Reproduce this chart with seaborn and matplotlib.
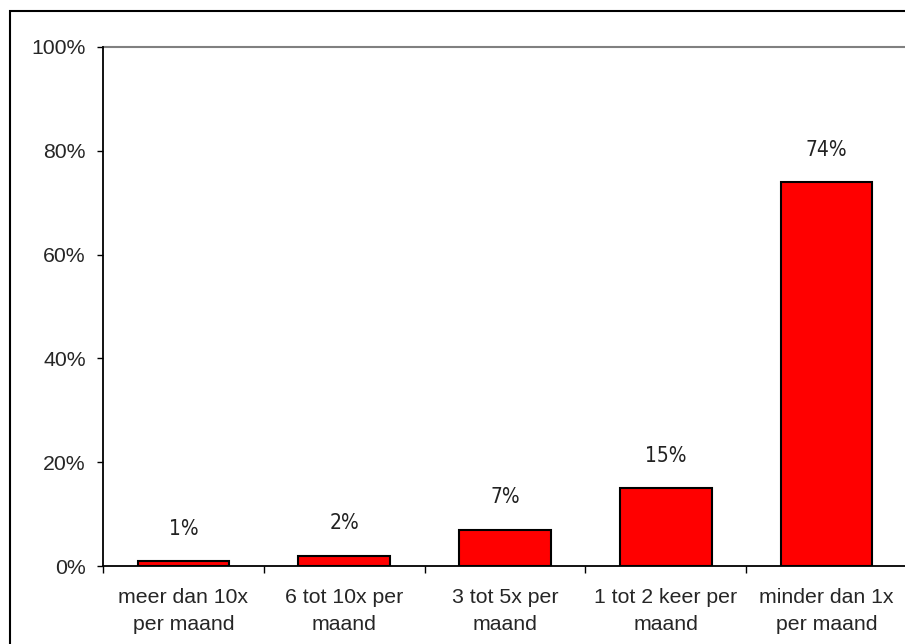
import matplotlib
matplotlib.use("Agg")
import matplotlib.pyplot as plt
from matplotlib.patches import Rectangle
import seaborn as sns
import pandas as pd

categories = [
    "meer dan 10x\nper maand",
    "6 tot 10x per\nmaand",
    "3 tot 5x per\nmaand",
    "1 tot 2 keer per\nmaand",
    "minder dan 1x\nper maand",
]
values = [1, 2, 7, 15, 74]
value_labels = ["1%", "2%", "7%", "15%", "74%"]
y_ticks = [0, 20, 40, 60, 80, 100]
y_tick_labels = ["0%", "20%", "40%", "60%", "80%", "100%"]

df = pd.DataFrame({"freq": categories, "pct": values})

sns.set_style("white")
plt.rcParams["font.family"] = ["Liberation Sans", "DejaVu Sans"]

W, H = 905, 644
fig = plt.figure(figsize=(W / 100, H / 100), dpi=100)
fig.patch.set_facecolor("white")

# outer chart frame
fig.patches.append(Rectangle((10 / W, -0.05), 1.2, 1.05 - 11 / H,
                             transform=fig.transFigure, fill=False,
                             edgecolor="black", linewidth=1.5, zorder=0))

left, right, top, bottom = 103, 907, 47, 566
ax = fig.add_axes([left / W, (H - bottom) / H, (right - left) / W, (bottom - top) / H])

sns.barplot(data=df, x="freq", y="pct", color="#FF0000", saturation=1,
            width=0.57, edgecolor="black", linewidth=1.5, ax=ax, zorder=3)

ax.set_xlim(-0.5, 4.5)
ax.set_ylim(0, 100)
ax.set_xlabel("")
ax.set_ylabel("")

ax.set_yticks(y_ticks)
ax.set_yticklabels(y_tick_labels, fontsize=15.3)
ax.tick_params(axis="y", direction="out", length=4.5, width=1, pad=8, color="black", left=True)

ax.set_xticks(range(len(categories)))
ax.set_xticklabels(categories, fontsize=15.3, linespacing=1.5)
ax.tick_params(axis="x", which="major", length=0, pad=16)
ax.set_xticks([i + 0.5 for i in range(-1, len(categories))], minor=True)
ax.tick_params(axis="x", which="minor", direction="out", length=5, width=1, color="black", bottom=True)

# top reference line at 100%
ax.axhline(100, color="#808080", linewidth=1.5, zorder=2, clip_on=False)

for s in ["top", "right"]:
    ax.spines[s].set_visible(False)
for s in ["left", "bottom"]:
    ax.spines[s].set_color("black")
    ax.spines[s].set_linewidth(1.3)
    ax.spines[s].set_zorder(4)

for i, (v, lab) in enumerate(zip(values, value_labels)):
    ax.annotate(lab, (i, v), xytext=(0, 16), textcoords="offset points",
                ha="center", va="bottom", fontsize=15, color="#222222",
                family=["Liberation Sans Narrow", "DejaVu Sans"],
                fontstretch="condensed", fontweight="light")

fig.savefig("out.png", dpi=100)
